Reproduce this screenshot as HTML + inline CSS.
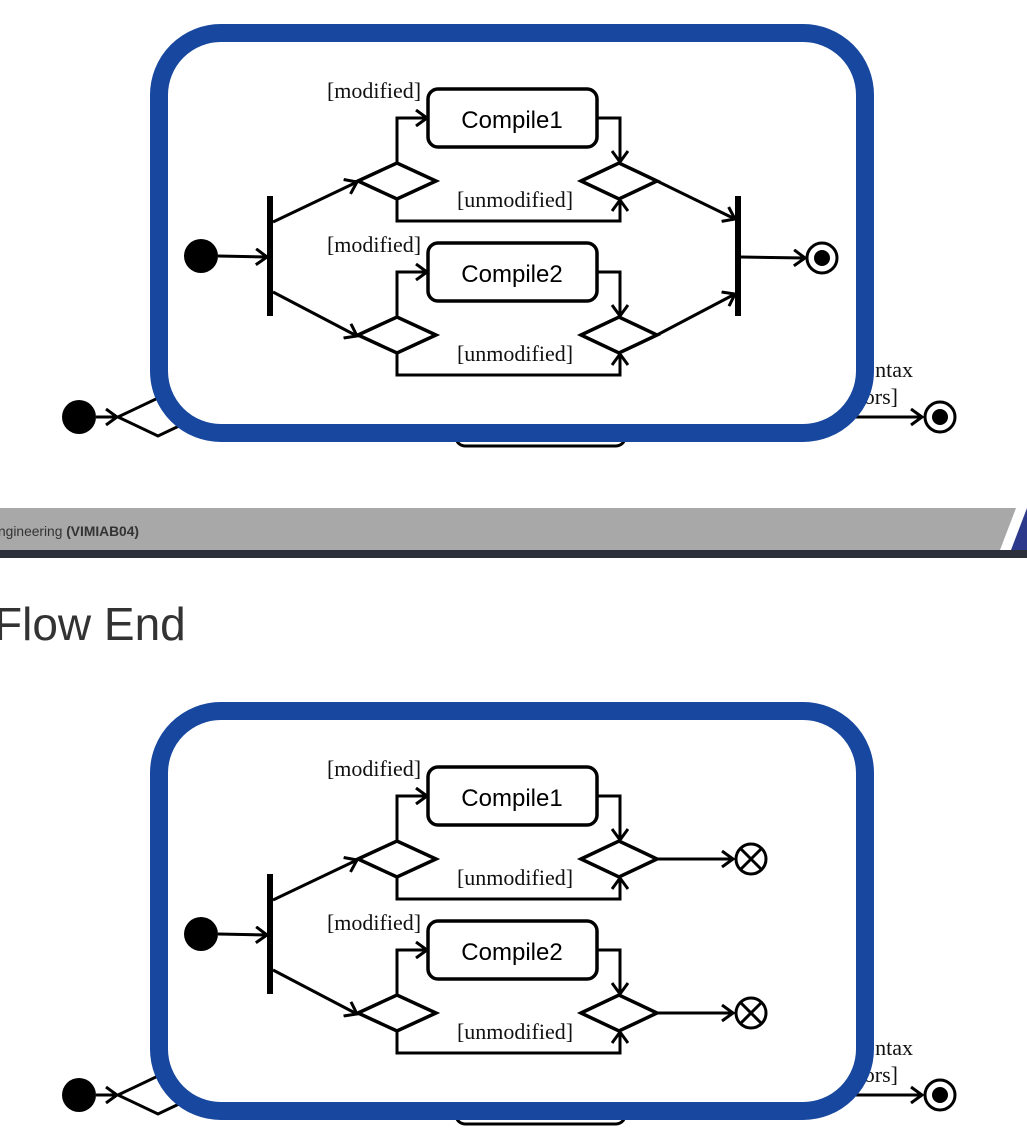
<!DOCTYPE html>
<html><head><meta charset="utf-8"><style>
html,body{margin:0;padding:0;background:#fff;}
svg{display:block;}
.lbl{font-family:"Liberation Serif",serif;font-size:22px;fill:#111;}
.act{font-family:"Liberation Sans",sans-serif;font-size:24px;fill:#000;}
</style></head><body>
<svg width="1027" height="1147" viewBox="0 0 1027 1147" xmlns="http://www.w3.org/2000/svg">
<defs>
<marker id="a" markerWidth="16" markerHeight="18" refX="13" refY="9" orient="auto" markerUnits="userSpaceOnUse">
<path d="M2,1 L13,9 L2,17" fill="none" stroke="#000" stroke-width="3"/>
</marker>
<g id="bg">
  <circle cx="79" cy="417" r="17" fill="#000"/>
  <line x1="96" y1="417" x2="117" y2="417" stroke="#000" stroke-width="3" marker-end="url(#a)"/>
  <path d="M118,417 L158,398 L198,417 L158,436 Z" fill="#fff" stroke="#000" stroke-width="3"/>
  <rect x="456" y="380" width="169" height="66" rx="9" fill="#fff" stroke="#000" stroke-width="3"/>
  <text class="lbl" x="913" y="377" text-anchor="end">[no sy ntax</text>
  <text class="lbl" x="898" y="404" text-anchor="end">errors]</text>
  <line x1="850" y1="417" x2="922" y2="417" stroke="#000" stroke-width="3" marker-end="url(#a)"/>
  <circle cx="940" cy="417" r="15" fill="#fff" stroke="#000" stroke-width="3"/>
  <circle cx="940" cy="417" r="8" fill="#000"/>
  <rect x="159" y="33" width="706" height="400" rx="62" fill="#fff" stroke="#17479e" stroke-width="18"/>
</g>
<g id="core" fill="none" stroke="#000" stroke-width="3">
  <circle cx="201" cy="256" r="17" fill="#000" stroke="none"/>
  <line x1="218" y1="256" x2="267" y2="257" marker-end="url(#a)"/>
  <rect x="267" y="196" width="6" height="120" fill="#000" stroke="none"/>
  <line x1="273" y1="222" x2="357" y2="182" marker-end="url(#a)"/>
  <path d="M358,181 L397,163 L436,181 L397,199 Z" stroke-width="3.5"/>
  <path d="M397,163 L397,118 L427,118" marker-end="url(#a)"/>
  <rect x="428" y="89" width="169" height="58" rx="10" stroke-width="3.5"/>
  <path d="M597,118 L620,118 L620,162" marker-end="url(#a)"/>
  <path d="M581,181 L619,163 L657,181 L619,199 Z" stroke-width="3.5"/>
  <path d="M397,199 L397,221 L620,221 L620,200" marker-end="url(#a)"/>
  <line x1="273" y1="292" x2="357" y2="336" marker-end="url(#a)"/>
  <path d="M358,335 L397,317 L436,335 L397,353 Z" stroke-width="3.5"/>
  <path d="M397,317 L397,272 L427,272" marker-end="url(#a)"/>
  <rect x="428" y="243" width="169" height="58" rx="10" stroke-width="3.5"/>
  <path d="M597,272 L620,272 L620,316" marker-end="url(#a)"/>
  <path d="M581,335 L619,317 L657,335 L619,353 Z" stroke-width="3.5"/>
  <path d="M397,353 L397,375 L620,375 L620,354" marker-end="url(#a)"/>
</g>
<g id="texts">
  <text class="act" x="512" y="128" text-anchor="middle">Compile1</text>
  <text class="act" x="512" y="282" text-anchor="middle">Compile2</text>
  <text class="lbl" x="374" y="98" text-anchor="middle">[modified]</text>
  <text class="lbl" x="515" y="207" text-anchor="middle">[unmodified]</text>
  <text class="lbl" x="374" y="252" text-anchor="middle">[modified]</text>
  <text class="lbl" x="515" y="361" text-anchor="middle">[unmodified]</text>
</g>
</defs>

<use href="#bg"/>
<use href="#core"/>
<use href="#texts"/>
<g fill="none" stroke="#000" stroke-width="3">
  <line x1="657" y1="181" x2="735" y2="219" marker-end="url(#a)"/>
  <line x1="657" y1="335" x2="735" y2="294" marker-end="url(#a)"/>
  <rect x="735" y="196" width="6" height="120" fill="#000" stroke="none"/>
  <line x1="741" y1="257" x2="805" y2="258" marker-end="url(#a)"/>
  <circle cx="822" cy="258" r="15" fill="#fff" stroke-width="3"/>
  <circle cx="822" cy="258" r="8" fill="#000" stroke="none"/>
</g>

<polygon points="0,508 1016,508 1000,550 0,550" fill="#a8a8a8"/>
<polygon points="1027,508 1027,550 1011,550" fill="#2d3a8c"/>
<rect x="0" y="550" width="1027" height="8" fill="#2a2f3a"/>
<text x="-2" y="536" font-family="Liberation Sans, sans-serif" font-size="14" textLength="141" lengthAdjust="spacingAndGlyphs" fill="#333">ngineering <tspan font-weight="bold">(VIMIAB04)</tspan></text>

<text x="-6" y="640" font-family="Liberation Sans, sans-serif" font-size="46" fill="#333">Flow End</text>

<g transform="translate(0,678)">
  <use href="#bg"/>
  <use href="#core"/>
  <use href="#texts"/>
  <g fill="none" stroke="#000" stroke-width="3">
    <line x1="657" y1="181" x2="733" y2="181" marker-end="url(#a)"/>
    <line x1="657" y1="335" x2="733" y2="335" marker-end="url(#a)"/>
    <circle cx="751" cy="181" r="15" fill="#fff" stroke-width="3"/>
    <path d="M740.5,170.5 L761.5,191.5 M761.5,170.5 L740.5,191.5"/>
    <circle cx="751" cy="335" r="15" fill="#fff" stroke-width="3"/>
    <path d="M740.5,324.5 L761.5,345.5 M761.5,324.5 L740.5,345.5"/>
  </g>
</g>
</svg>
</body></html>
